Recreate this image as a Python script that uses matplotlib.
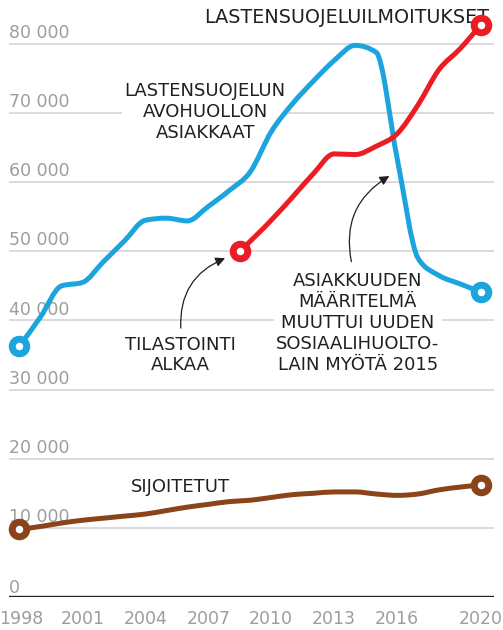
import matplotlib
matplotlib.use("Agg")
import matplotlib.pyplot as plt
from matplotlib.path import Path
from matplotlib.patches import PathPatch
import numpy as np


# data
years = [1998, 1999, 2000, 2001, 2002, 2003, 2004, 2005, 2006, 2007, 2008,
         2009, 2010, 2011, 2012, 2013, 2014, 2015, 2016, 2017, 2018, 2019, 2020]
avohuolto = [36300, 40500, 45000, 45500, 48500, 51500, 54500, 54800, 54400,
             56500, 58800, 61500, 67300, 71300, 74600, 77600, 79800, 78800,
             63500, 49000, 46500, 45300, 44100]
sijoitetut = [9800, 10200, 10700, 11100, 11400, 11700, 12000, 12500, 13000,
              13400, 13800, 14000, 14400, 14800, 15000, 15200, 15200, 14900,
              14700, 14900, 15500, 15900, 16200]
ilmoitus_years = [2008.5, 2010, 2011, 2012, 2013, 2014, 2015, 2016, 2017,
                  2018, 2019, 2020]
ilmoitukset = [50000, 54500, 57800, 61200, 64100, 64000, 65200, 67000, 71200,
               76300, 79300, 82800]

grid_values = [0, 10000, 20000, 30000, 40000, 50000, 60000, 70000, 80000]
grid_labels = ["0", "10 000", "20 000", "30 000", "40 000", "50 000",
               "60 000", "70 000", "80 000"]
xtick_years = [1998, 2001, 2004, 2007, 2010, 2013, 2016, 2020]

BLUE = "#1ba4dd"
RED = "#ec1c24"
BROWN = "#8b4419"
INK = "#231f20"
GREY = "#9d9d9d"


def smooth_path(xs, ys):
    # monotone cubic bezier path through the points (like d3 curveMonotoneX)
    xs = np.asarray(xs, float)
    ys = np.asarray(ys, float)
    n = len(xs)
    h = np.diff(xs)
    s = np.diff(ys) / h
    t = np.zeros(n)
    for i in range(1, n - 1):
        p = (s[i - 1] * h[i] + s[i] * h[i - 1]) / (h[i - 1] + h[i])
        t[i] = (np.sign(s[i - 1]) + np.sign(s[i])) * min(abs(s[i - 1]), abs(s[i]), 0.5 * abs(p))
    t[0] = (3 * s[0] - t[1]) / 2
    t[-1] = (3 * s[-1] - t[-2]) / 2
    verts = [(xs[0], ys[0])]
    codes = [Path.MOVETO]
    for i in range(n - 1):
        d = h[i] / 3
        verts += [(xs[i] + d, ys[i] + d * t[i]),
                  (xs[i + 1] - d, ys[i + 1] - d * t[i + 1]),
                  (xs[i + 1], ys[i + 1])]
        codes += [Path.CURVE4] * 3
    return Path(verts, codes)


def draw_series(ax, xs, ys, color):
    ax.add_patch(PathPatch(smooth_path(xs, ys), fc="none", ec=color, lw=3.6,
                           capstyle="round", joinstyle="round", zorder=3))
    ax.plot([xs[0], xs[-1]], [ys[0], ys[-1]], ls="none", marker="o",
            ms=10.5, mew=5, mec=color, mfc="white", zorder=4, clip_on=False)


fig = plt.figure(figsize=(5.03, 6.30), dpi=100)
ax = fig.add_axes([9 / 503, 1 - 597 / 630, 485 / 503, 587.6 / 630])
ax.set_xlim(1997.5, 2020.62)
ax.set_ylim(0, 85000)
ax.axis("off")

for v, lab in zip(grid_values, grid_labels):
    if v == 0:
        ax.axhline(0, color=INK, lw=2.4, zorder=2)
    else:
        ax.axhline(v, color="#dadada", lw=1.4, zorder=0)
    ax.annotate(lab, xy=(0, v), xycoords=("axes fraction", "data"),
                xytext=(0, 3 if v == 0 else 4.3), textcoords="offset points",
                ha="left", va="baseline", color=GREY, fontsize=12.5, zorder=1)

for yr in xtick_years:
    dx = 1.2 if yr == xtick_years[0] else 0
    ax.annotate(str(yr), xy=(yr, 0), xytext=(dx, -19.4), textcoords="offset points",
                ha="center", va="baseline", color=GREY, fontsize=12.5,
                annotation_clip=False)

draw_series(ax, years, sijoitetut, BROWN)
draw_series(ax, years, avohuolto, BLUE)
draw_series(ax, ilmoitus_years, ilmoitukset, RED)

label_kw = dict(color=INK, fontsize=13, ha="center", va="center",
                multialignment="center", linespacing=1.2)
box = dict(boxstyle="square,pad=0.15", fc="white", ec="none")

ax.text(2020.39, 83900, "LASTENSUOJELUILMOITUKSET", color=INK, fontsize=13.8,
        ha="right", va="center")
ax.text(2006.85, 70200, "LASTENSUOJELUN\nAVOHUOLLON\nASIAKKAAT", bbox=box,
        zorder=2, **label_kw)
ax.text(2005.69, 35000, "TILASTOINTI\nALKAA", zorder=2, **label_kw)
ax.text(2014.13, 39650, "ASIAKKUUDEN\nMÄÄRITELMÄ\nMUUTTUI UUDEN\nSOSIAALIHUOLTO-\nLAIN MYÖTÄ 2015",
        bbox=box, zorder=2, **label_kw)
ax.text(2005.69, 15900, "SIJOITETUT", zorder=2, **label_kw)

arrow_kw = dict(arrowstyle="-|>", color=INK, lw=0.9, mutation_scale=14,
                shrinkA=0, shrinkB=0)
ax.annotate("", xy=(2007.8, 49000), xytext=(2005.69, 38900),
            arrowprops=dict(connectionstyle="arc3,rad=-0.35", **arrow_kw))
ax.annotate("", xy=(2015.63, 60900), xytext=(2013.82, 48500),
            arrowprops=dict(connectionstyle="arc3,rad=-0.35", **arrow_kw))

fig.savefig("out.png", dpi=100)
